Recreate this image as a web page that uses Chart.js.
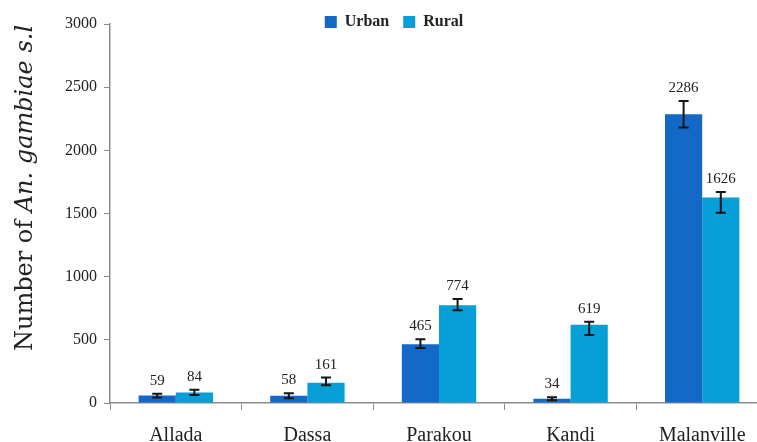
<!DOCTYPE html>
<html>
<head>
<meta charset="utf-8">
<script src="https://cdn.jsdelivr.net/npm/chart.js@4/dist/chart.umd.min.js"></script>
<style>
  html, body { margin: 0; padding: 0; background: #fff; overflow: hidden; width: 757px; height: 442px; }
  canvas { display: block; }
</style>
</head>
<body>
<canvas id="chart" width="790" height="442"></canvas>
<script>
// Anopheles gambiae s.l. counts per site, urban vs rural
const sites = ['Allada', 'Dassa', 'Parakou', 'Kandi', 'Malanville'];
const urban = [59, 58, 465, 34, 2286];
const rural = [84, 161, 774, 619, 1626];
// error bar extents above / below each mean
const urbanErrUp = [15, 20, 40, 12, 105];
const urbanErrDown = [15, 20, 30, 12, 105];
const ruralErrUp = [20, 40, 50, 25, 45];
const ruralErrDown = [20, 20, 40, 80, 120];
const yTicks = [0, 500, 1000, 1500, 2000, 2500, 3000];

const SERIF = '"Liberation Serif", "DejaVu Serif", serif';
const AXIS = '#8c8c8c';

// error bars with value labels above them
const errorBars = {
  id: 'errorBars',
  afterDatasetsDraw(chart) {
    const { ctx } = chart;
    const y = chart.scales.y;
    chart.data.datasets.forEach((ds, i) => {
      const meta = chart.getDatasetMeta(i);
      meta.data.forEach((bar, j) => {
        const v = ds.data[j];
        const top = y.getPixelForValue(v + ds.errUp[j]);
        const bot = y.getPixelForValue(v - ds.errDown[j]);
        ctx.save();
        ctx.strokeStyle = '#151515';
        ctx.lineWidth = 2;
        ctx.beginPath();
        ctx.moveTo(bar.x, top); ctx.lineTo(bar.x, bot);
        ctx.moveTo(bar.x - 5, top); ctx.lineTo(bar.x + 5, top);
        ctx.moveTo(bar.x - 5, bot); ctx.lineTo(bar.x + 5, bot);
        ctx.stroke();
        ctx.fillStyle = '#222';
        ctx.font = '15px ' + SERIF;
        ctx.textAlign = 'center';
        ctx.textBaseline = 'middle';
        ctx.fillText(String(v), bar.x, top - 13);
        ctx.restore();
      });
    });
  }
};

// rotated y-axis title with italic species name
const yTitle = {
  id: 'yTitle',
  afterDraw(chart) {
    const { ctx } = chart;
    const fam = '"DejaVu Serif", serif';
    const parts = [
      { t: 'Number of ', f: '24px ' + fam },
      { t: 'An. gambiae s.l', f: 'italic 24px ' + fam }
    ];
    ctx.save();
    let total = 0;
    parts.forEach(p => { ctx.font = p.f; p.w = ctx.measureText(p.t).width; total += p.w; });
    ctx.translate(26, 188);
    ctx.rotate(-Math.PI / 2);
    ctx.fillStyle = '#222';
    ctx.textBaseline = 'middle';
    ctx.textAlign = 'left';
    let x = -total / 2;
    parts.forEach(p => { ctx.font = p.f; ctx.fillText(p.t, x, 0); x += p.w; });
    ctx.restore();
  }
};

// legend takes little vertical room so the plot starts near the top,
// but keeps its full box for drawing
const compactLegend = {
  id: 'compactLegend',
  beforeInit(chart) {
    const lg = chart.legend;
    if (!lg) return;
    const fit = lg.fit.bind(lg);
    lg.fit = function () { fit(); this.height = 24; };
  },
  afterLayout(chart) {
    const lg = chart.legend;
    if (!lg) return;
    lg.height = 44;
    lg.bottom = lg.top + 44;
  }
};

new Chart(document.getElementById('chart'), {
  type: 'bar',
  data: {
    labels: sites,
    datasets: [
      { label: 'Urban', data: urban, errUp: urbanErrUp, errDown: urbanErrDown,
        backgroundColor: '#1468c6', borderWidth: 0 },
      { label: 'Rural', data: rural, errUp: ruralErrUp, errDown: ruralErrDown,
        backgroundColor: '#069fd8', borderWidth: 0 }
    ]
  },
  options: {
    responsive: false,
    animation: false,
    devicePixelRatio: 1,
    layout: { padding: { left: 20, right: 22, top: 0, bottom: 0 } },
    datasets: { bar: { categoryPercentage: 0.565, barPercentage: 1.0 } },
    plugins: {
      legend: {
        position: 'top',
        labels: {
          boxWidth: 12, boxHeight: 12, padding: 14,
          color: '#222',
          font: { family: SERIF, size: 16, weight: 'bold' }
        }
      },
      tooltip: { enabled: false }
    },
    scales: {
      x: {
        offset: true,
        grid: { display: true, offset: true, drawOnChartArea: false, drawTicks: true, tickLength: 7, color: AXIS, lineWidth: 1 },
        border: { display: true, color: AXIS, width: 1.5 },
        ticks: { color: '#222', padding: 14, font: { family: SERIF, size: 20 } },
        afterFit(s) { s.height = 39; }
      },
      y: {
        min: 0, max: 3000,
        afterBuildTicks(s) { s.ticks = yTicks.map(v => ({ value: v })); },
        grid: { display: true, drawOnChartArea: false, drawTicks: true, tickLength: 6, color: AXIS, lineWidth: 1 },
        border: { display: true, color: AXIS, width: 1.5 },
        ticks: { color: '#222', padding: 7, font: { family: SERIF, size: 16 }, callback: v => String(v) },
        afterFit(s) { s.width = 90; }
      }
    }
  },
  plugins: [compactLegend, errorBars, yTitle]
});
</script>
</body>
</html>
